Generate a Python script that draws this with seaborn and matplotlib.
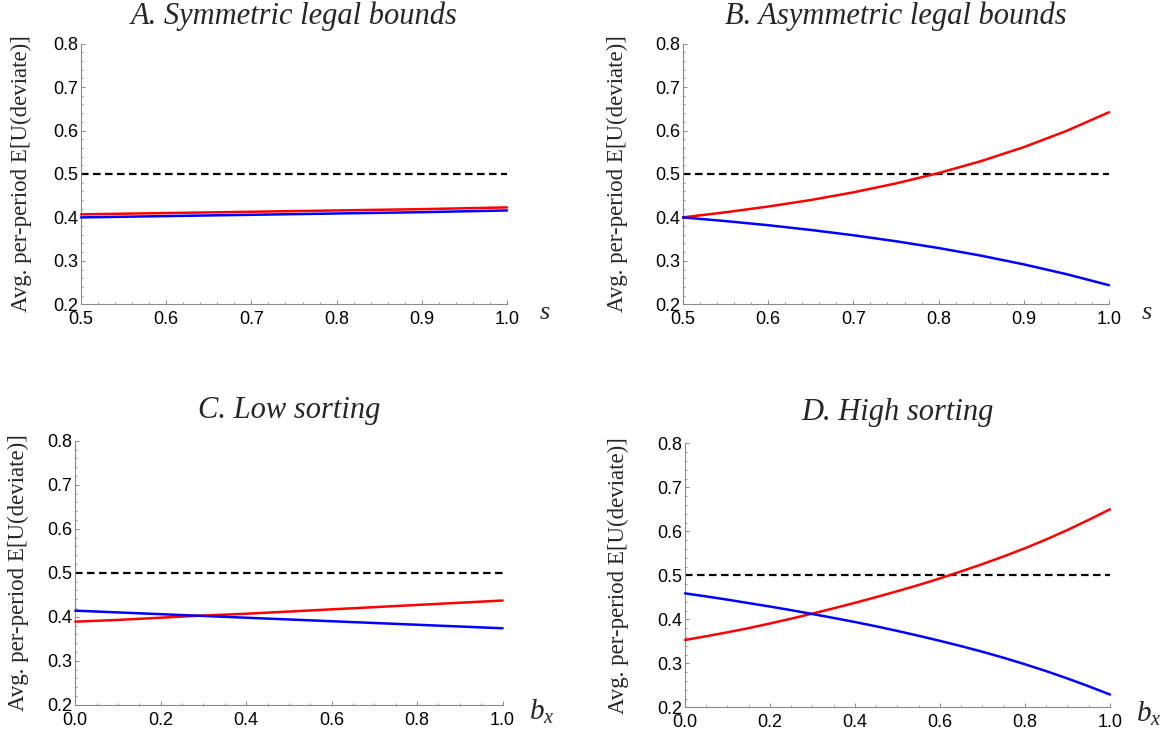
import numpy as np
import pandas as pd
import matplotlib
matplotlib.use("Agg")
import matplotlib.pyplot as plt
import seaborn as sns
from matplotlib.ticker import MultipleLocator, FormatStrFormatter

# ---------------- data ----------------
titles = ["A. Symmetric legal bounds", "B. Asymmetric legal bounds",
          "C. Low sorting", "D. High sorting"]
ylabel_text = "Avg. per-period E[U(deviate)]"
ref_level = 0.5

# Panel A  (x = s)
s_A = [0.50, 0.60, 0.70, 0.80, 0.90, 1.00]
red_A = [0.407, 0.410, 0.413, 0.416, 0.419, 0.423]
blue_A = [0.400, 0.403, 0.406, 0.409, 0.412, 0.416]

# Panel B  (x = s)
s_B = [0.50, 0.55, 0.60, 0.65, 0.70, 0.75, 0.80, 0.85, 0.90, 0.95, 1.00]
red_B = [0.400, 0.4118, 0.4250, 0.4400, 0.4577, 0.4782, 0.5020, 0.5296, 0.5617, 0.5989, 0.6420]
blue_B = [0.400, 0.3915, 0.3820, 0.3711, 0.3589, 0.3451, 0.3295, 0.3119, 0.2919, 0.2694, 0.2440]

# Panel C  (x = b_x)
b_C = [0.0, 0.1, 0.2, 0.3, 0.4, 0.5, 0.6, 0.7, 0.8, 0.9, 1.0]
red_C = [0.389, 0.393, 0.398, 0.403, 0.407, 0.412, 0.417, 0.422, 0.427, 0.432, 0.437]
blue_C = [0.414, 0.410, 0.406, 0.402, 0.398, 0.394, 0.390, 0.386, 0.382, 0.378, 0.374]

# Panel D  (x = b_x)
b_D = [0.00, 0.05, 0.10, 0.15, 0.20, 0.25, 0.30, 0.35, 0.40, 0.45, 0.50,
       0.55, 0.60, 0.65, 0.70, 0.75, 0.80, 0.85, 0.90, 0.95, 1.00]
red_D = [0.3530, 0.3615, 0.3705, 0.3800, 0.3905, 0.4015, 0.4130, 0.4250, 0.4375, 0.4505, 0.4640,
         0.4780, 0.4930, 0.5090, 0.5255, 0.5430, 0.5615, 0.5815, 0.6030, 0.6260, 0.6500]
blue_D = [0.4590, 0.4520, 0.4446, 0.4368, 0.4290, 0.4207, 0.4120, 0.4030, 0.3938, 0.3840, 0.3735,
          0.3625, 0.3510, 0.3390, 0.3262, 0.3125, 0.2978, 0.2822, 0.2655, 0.2477, 0.2290]

y_ticks = [0.2, 0.3, 0.4, 0.5, 0.6, 0.7, 0.8]

# ---------------- style ----------------
sns.set_theme(style="ticks")
plt.rcParams["font.family"] = ["Liberation Sans", "DejaVu Sans"]
plt.rcParams["mathtext.fontset"] = "custom"
plt.rcParams["mathtext.rm"] = "Liberation Serif"
plt.rcParams["mathtext.it"] = "Liberation Serif:italic"

AX_COL = "#8a8a8a"
SERIF = ["Liberation Serif", "DejaVu Serif"]

fig = plt.figure(figsize=(11.67, 7.36), dpi=100)

panels = [
    dict(x=s_A, red=red_A, blue=blue_A, xlim=(0.5, 1.0), major=0.1, minor=0.02,
         xlabel="s", math=False, pos=[0.06941, 0.58655, 0.36504, 0.35421],
         ylab_off=60, title_pad=14),
    dict(x=s_B, red=red_B, blue=blue_B, xlim=(0.5, 1.0), major=0.1, minor=0.02,
         xlabel="s", math=False, pos=[0.58526, 0.58655, 0.36504, 0.35421],
         ylab_off=66, title_pad=14),
    dict(x=b_C, red=red_C, blue=blue_C, xlim=(0.0, 1.0), major=0.2, minor=0.05,
         xlabel=r"$b_x$", math=True, pos=[0.06452, 0.04226, 0.36615, 0.35897],
         ylab_off=57, title_pad=16.5),
    dict(x=b_D, red=red_D, blue=blue_D, xlim=(0.0, 1.0), major=0.2, minor=0.05,
         xlabel=r"$b_x$", math=True, pos=[0.58697, 0.03899, 0.36418, 0.35870],
         ylab_off=67, title_pad=16.5),
]

for p, title in zip(panels, titles):
    ax = fig.add_axes(p["pos"])
    df = pd.DataFrame({"x": p["x"], "red": p["red"], "blue": p["blue"]})

    ax.axhline(ref_level, color="black", lw=1.6, ls=(0, (3.4, 2.0)), zorder=2)
    sns.lineplot(data=df, x="x", y="red", color="#ff0000", lw=1.8, ax=ax,
                 zorder=3, clip_on=False)
    sns.lineplot(data=df, x="x", y="blue", color="#0000ff", lw=1.8, ax=ax,
                 zorder=3, clip_on=False)

    ax.set_xlim(*p["xlim"])
    ax.set_ylim(0.2, 0.8)
    ax.xaxis.set_major_locator(MultipleLocator(p["major"]))
    ax.xaxis.set_minor_locator(MultipleLocator(p["minor"]))
    ax.set_yticks(y_ticks)
    ax.yaxis.set_minor_locator(MultipleLocator(0.02))
    ax.xaxis.set_major_formatter(FormatStrFormatter("%.1f"))
    ax.yaxis.set_major_formatter(FormatStrFormatter("%.1f"))

    for side in ["top", "right"]:
        ax.spines[side].set_visible(False)
    for side in ["left", "bottom"]:
        ax.spines[side].set_color(AX_COL)
        ax.spines[side].set_linewidth(0.8)

    ax.tick_params(which="major", direction="in", length=3.2, width=0.7,
                   color=AX_COL, labelsize=13, labelcolor="black")
    ax.tick_params(which="minor", direction="in", length=1.7, width=0.6,
                   color=AX_COL)
    ax.tick_params(axis="x", which="major", pad=5)
    ax.tick_params(axis="y", which="major", pad=2)
    for lab in ax.get_xticklabels() + ax.get_yticklabels():
        lab.set_fontfamily(["Liberation Sans", "DejaVu Sans"])

    ax.set_xlabel("")
    ax.set_ylabel(ylabel_text, fontsize=16.5, family=SERIF, va="center")
    w_px = p["pos"][2] * 1167
    ax.yaxis.set_label_coords(-p["ylab_off"] / w_px, 0.5)

    ax.set_title(title, fontsize=22, family=SERIF, style="italic",
                 pad=p["title_pad"])

    if p["math"]:
        ax.text(1 + 26 / w_px, -0.025, p["xlabel"], transform=ax.transAxes,
                fontsize=21, ha="left", va="center")
    else:
        ax.text(1 + 33 / w_px, -0.035, p["xlabel"], transform=ax.transAxes,
                fontsize=19, family=SERIF, style="italic", ha="left", va="center")

fig.savefig("out.png", dpi=100)
